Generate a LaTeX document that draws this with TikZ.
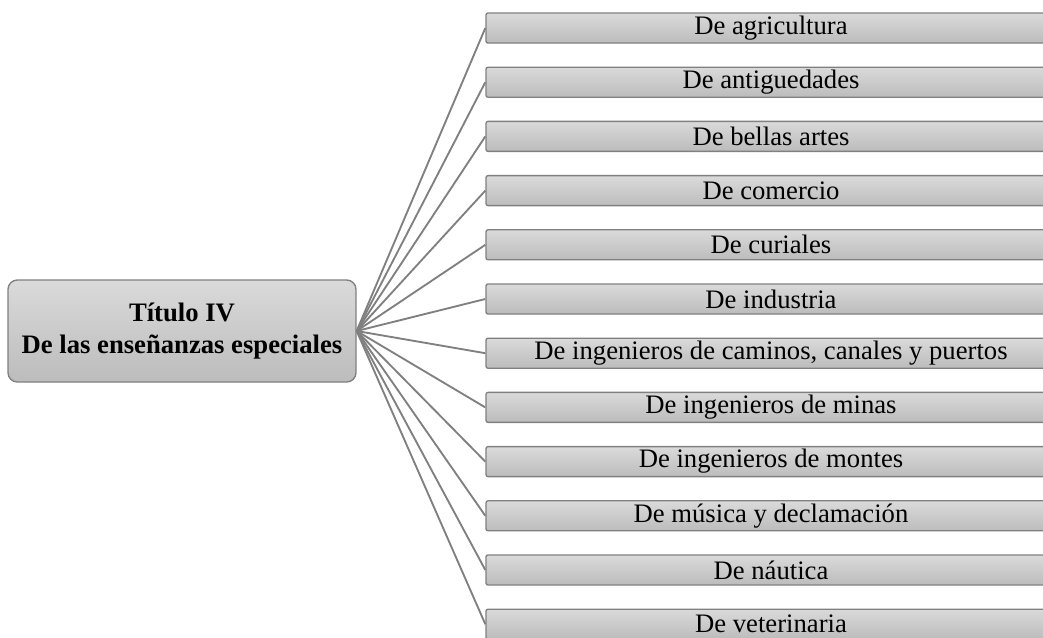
\documentclass[tikz,border=0pt]{standalone}
\usepackage{fontspec}
\setmainfont{Liberation Serif}
\definecolor{linegray}{RGB}{128,128,128}
\definecolor{boxtop}{RGB}{218,218,218}
\definecolor{boxbottom}{RGB}{188,188,188}

\begin{document}
\begin{tikzpicture}[x=0.75pt, y=-0.75pt, font=\fontsize{20}{24.5}\selectfont,
	raiz/.style={draw=linegray, line width=1pt, rounded corners=7pt, top color=boxtop, bottom color=boxbottom,
		minimum width=261pt, minimum height=76.5pt, inner sep=0pt, align=center, font=\fontsize{20}{24.5}\selectfont\bfseries},
	rama/.style={draw=linegray, line width=1pt, rounded corners=1.5pt, top color=boxtop, bottom color=boxbottom,
		minimum width=427.5pt, minimum height=22.5pt, inner sep=0pt},
	enlace/.style={draw=linegray, line width=1.4pt}]
			\useasboundingbox (0,0) rectangle (1043,637);
			\clip (0,0) rectangle (1043,637);

			% Central title box
			\node[raiz] (titulo) at (182,331) {Título IV\\De las enseñanzas especiales};

			% Branches on the right
			\foreach \texto [count=\i] in {De agricultura, De antiguedades, De bellas artes, De comercio, De curiales,
				De industria, {De ingenieros de caminos, canales y puertos}, De ingenieros de minas,
				De ingenieros de montes, De música y declamación, De náutica, De veterinaria}
			{
				\node[rama] (e\i) at (771,{28+54.2*(\i-1)}) {\texto};
				\draw[enlace] (titulo.east) -- (e\i.west);
			}
		\end{tikzpicture}
\end{document}
